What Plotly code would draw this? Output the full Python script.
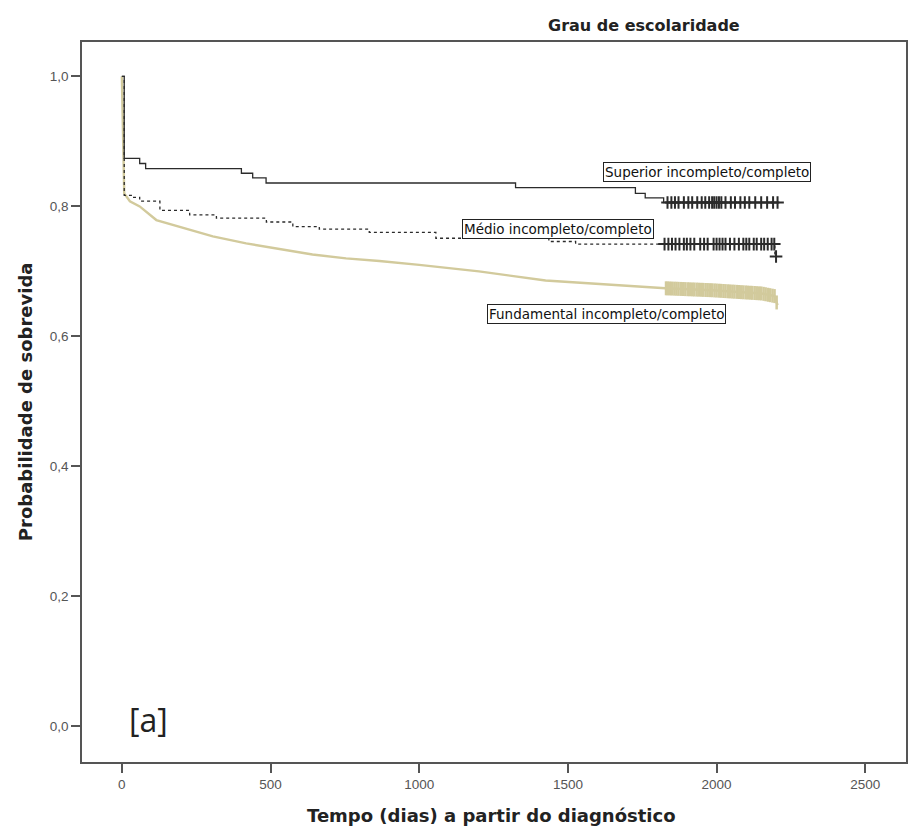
import numpy as np
import plotly.graph_objects as go

# ---- data ----
sup_t = [0, 8, 60, 80, 402, 440, 485, 1324, 1727, 1760, 1822, 2208]
sup_s = [1.0, 0.874, 0.866, 0.858, 0.851, 0.844, 0.836, 0.829, 0.820, 0.813, 0.806, 0.806]
sup_c = [1835, 1848, 1860, 1872, 1890, 1905, 1918, 1935, 1950, 1962, 1975, 1985,
         1992, 2000, 2008, 2016, 2030, 2048, 2062, 2080, 2095, 2110, 2130, 2150,
         2170, 2190, 2205]

med_t = [0, 8, 37, 60, 128, 228, 318, 486, 575, 664, 832, 1056, 1436, 1526, 2196, 2200]
med_s = [1.0, 0.817, 0.814, 0.808, 0.794, 0.787, 0.782, 0.776, 0.769, 0.765, 0.760,
         0.751, 0.746, 0.742, 0.723, 0.723]
med_c = [1825, 1838, 1850, 1862, 1875, 1890, 1900, 1912, 1925, 1945, 1958, 1970,
         1990, 2000, 2010, 2020, 2030, 2045, 2060, 2075, 2090, 2100, 2110, 2125,
         2135, 2150, 2160, 2172, 2185, 2194, 2200]

fund_t = [0, 8, 27, 60, 116, 195, 306, 418, 530, 641, 754, 866, 1000, 1201, 1425,
          1648, 1828, 1984, 2152, 2195, 2205]
fund_s = [1.0, 0.820, 0.808, 0.800, 0.779, 0.769, 0.754, 0.743, 0.735, 0.726, 0.720,
          0.716, 0.710, 0.700, 0.686, 0.679, 0.674, 0.671, 0.666, 0.662, 0.648]
fund_c = [1830, 1836, 1843, 1850, 1858, 1865, 1872, 1880, 1888, 1895, 1903, 1910,
          1918, 1925, 1933, 1940, 1948, 1955, 1963, 1970, 1978, 1985, 1993, 2000,
          2008, 2015, 2023, 2030, 2038, 2045, 2053, 2060, 2068, 2075, 2083, 2090,
          2098, 2105, 2113, 2120, 2128, 2135, 2143, 2150, 2158, 2165, 2173, 2180,
          2188, 2195, 2202]

labels = ["Superior incompleto/completo", "Médio incompleto/completo",
          "Fundamental incompleto/completo"]
x_ticks = [0, 500, 1000, 1500, 2000, 2500]
y_ticks = [0.0, 0.2, 0.4, 0.6, 0.8, 1.0]

TAN = "#d2ca9c"
DARK = "#2b2b2b"


def step_at(times, t, s):
    idx = np.searchsorted(t, times, side="right") - 1
    return [s[i] for i in idx]


fig = go.Figure()

# Fundamental
fig.add_trace(go.Scatter(x=fund_t, y=fund_s, mode="lines",
                         line=dict(color=TAN, width=2.4), showlegend=False))
fig.add_trace(go.Scatter(x=fund_c, y=list(np.interp(fund_c, fund_t, fund_s)),
                         mode="markers", showlegend=False,
                         marker=dict(symbol="line-ns", size=10,
                                     line=dict(color=TAN, width=2.5))))
# Médio
fig.add_trace(go.Scatter(x=med_t, y=med_s, mode="lines", line_shape="hv",
                         line=dict(color=DARK, width=1.3, dash="3px,3px"),
                         showlegend=False))
fig.add_trace(go.Scatter(x=med_c, y=step_at(med_c, med_t, med_s), mode="markers",
                         showlegend=False,
                         marker=dict(symbol="cross-thin", size=9,
                                     line=dict(color=DARK, width=2))))
# Superior
fig.add_trace(go.Scatter(x=sup_t, y=sup_s, mode="lines", line_shape="hv",
                         line=dict(color=DARK, width=1.3), showlegend=False))
fig.add_trace(go.Scatter(x=sup_c, y=step_at(sup_c, sup_t, sup_s), mode="markers",
                         showlegend=False,
                         marker=dict(symbol="cross-thin", size=9,
                                     line=dict(color=DARK, width=2))))

L, R, T, B = 82, 3, 42, 70
W, H = 911, 832
pw, ph = W - L - R, H - T - B


def px(x):
    return (x - L) / pw


def py(y):
    return (H - B - y) / ph


base = dict(xref="paper", yref="paper", showarrow=False, xanchor="center",
            yanchor="middle")
box = dict(bordercolor="#222", borderwidth=1, bgcolor="white", borderpad=1,
           font=dict(family="DejaVu Sans", size=13.5, color="#111"), **base)
ttl = dict(family="DejaVu Sans", size=16, color="#222")
axt = dict(family="DejaVu Sans", size=18, color="#222")
ann = [
    dict(text=labels[0], x=px(709), y=py(172), **box),
    dict(text=labels[1], x=px(559), y=py(229), **box),
    dict(text=labels[2], x=px(608), y=py(314), **box),
    dict(text="<b>Grau de escolaridade</b>", x=px(645), y=py(25), font=ttl, **base),
    dict(text="<b>Probabilidade de sobrevida</b>", x=px(25), y=py(402),
         textangle=-90, font=axt, **base),
    dict(text="<b>Tempo (dias) a partir do diagnóstico</b>", x=px(492), y=py(815),
         font=axt, **base),
    dict(text="[a]", x=px(149), y=py(719),
         font=dict(family="Open Sans, Liberation Sans", size=32, color="#222"), **base),
]

tickfont = dict(family="Liberation Sans, Arial", size=13.5, color="#555")
fig.update_layout(
    width=W, height=H,
    margin=dict(l=L, r=R, t=T, b=B, pad=0),
    paper_bgcolor="white", plot_bgcolor="white",
    separators=",.",
    annotations=ann,
    xaxis=dict(range=[-134, 2637], tickvals=x_ticks, showgrid=False,
               zeroline=False, showline=True, mirror=True, linecolor="#555",
               linewidth=1.5, ticks="outside", ticklen=9, tickcolor="#555",
               tickwidth=1.5, tickfont=tickfont),
    yaxis=dict(range=[-0.055, 1.053], tickvals=y_ticks, tickformat=".1f",
               showgrid=False, zeroline=False, showline=True, mirror=True,
               linecolor="#555", linewidth=1.5, ticks="outside", ticklen=9,
               tickcolor="#555", tickwidth=1.5, tickfont=tickfont),
)

fig.write_html("out.html")
